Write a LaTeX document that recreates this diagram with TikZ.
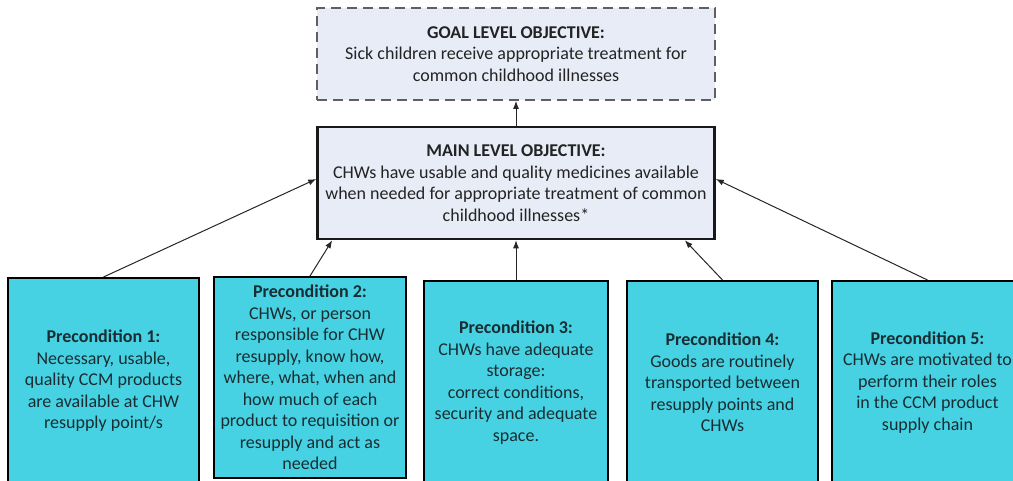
\documentclass[tikz,border=0pt]{standalone}
\usepackage{fontspec}
\setmainfont{Carlito}
\usetikzlibrary{arrows.meta}
\definecolor{lightbox}{RGB}{231,236,247}
\definecolor{cyanbox}{RGB}{70,210,226}
\definecolor{txtdark}{RGB}{35,35,35}
\definecolor{txtteal}{RGB}{25,45,50}
\definecolor{dashgrey}{RGB}{95,95,95}
\tikzset{
  objbox/.style={rectangle, fill=lightbox, inner sep=0pt, align=center,
    font=\fontsize{18pt}{21.5pt}\selectfont, text=txtdark},
  precbox/.style={rectangle, fill=cyanbox, draw=black, line width=2pt,
    inner sep=0pt, align=center, font=\fontsize{18pt}{21.5pt}\selectfont,
    text=txtteal, minimum width=190pt},
  link/.style={-{Latex[length=8pt,width=6pt]}, line width=1pt, draw=black!85},
}
\begin{document}
\begin{tikzpicture}[x=1pt,y=-1pt]
\useasboundingbox (0,0) rectangle (1013,480);
\node[objbox, draw=dashgrey, line width=1.8pt, dash pattern=on 10pt off 6pt,
  minimum width=398pt, minimum height=92pt] (goal) at (516,54)
  {\textbf{GOAL LEVEL OBJECTIVE:}\\Sick children receive appropriate treatment for\\common childhood illnesses};
\node[objbox, draw=black!90, line width=2.5pt,
  minimum width=397pt, minimum height=112pt] (main) at (516,183)
  {\textbf{MAIN LEVEL OBJECTIVE:}\\CHWs have usable and quality medicines available\\when needed for appropriate treatment of common\\childhood illnesses*};
\node[precbox, minimum width=191pt, minimum height=206pt] (b1) at (103.5,381)
  {\textbf{Precondition 1:}\\Necessary, usable,\\quality CCM products\\are available at CHW\\resupply point/s};
\node[precbox, minimum width=192pt, minimum height=201pt] (b2) at (310,377.5)
  {\textbf{Precondition 2:}\\CHWs, or person\\responsible for CHW\\resupply, know how,\\where, what, when and\\how much of each\\product to requisition or\\resupply and act as\\needed};
\node[precbox, minimum width=184pt, minimum height=203pt] (b3) at (516,382.5)
  {\textbf{Precondition 3:}\\CHWs have adequate\\storage:\\correct conditions,\\security and adequate\\space.};
\node[precbox, minimum width=191pt, minimum height=203pt] (b4) at (722.5,382.5)
  {\textbf{Precondition 4:}\\Goods are routinely\\transported between\\resupply points and\\CHWs};
\node[precbox, minimum width=191pt, minimum height=203pt] (b5) at (927.5,382.5)
  {\textbf{Precondition 5:}\\CHWs are motivated to\\perform their roles\\in the CCM product\\supply chain};
\draw[link] (main.north) -- (goal.south);
\draw[link] (b1.north) -- ([yshift=4pt]main.west);
\draw[link] (b2.north) -- ([xshift=16pt]main.south west);
\draw[link] (b3.north) -- (main.south);
\draw[link] (b4.north) -- ([xshift=-31pt]main.south east);
\draw[link] (b5.north) -- ([yshift=4pt]main.east);
\end{tikzpicture}
\end{document}
